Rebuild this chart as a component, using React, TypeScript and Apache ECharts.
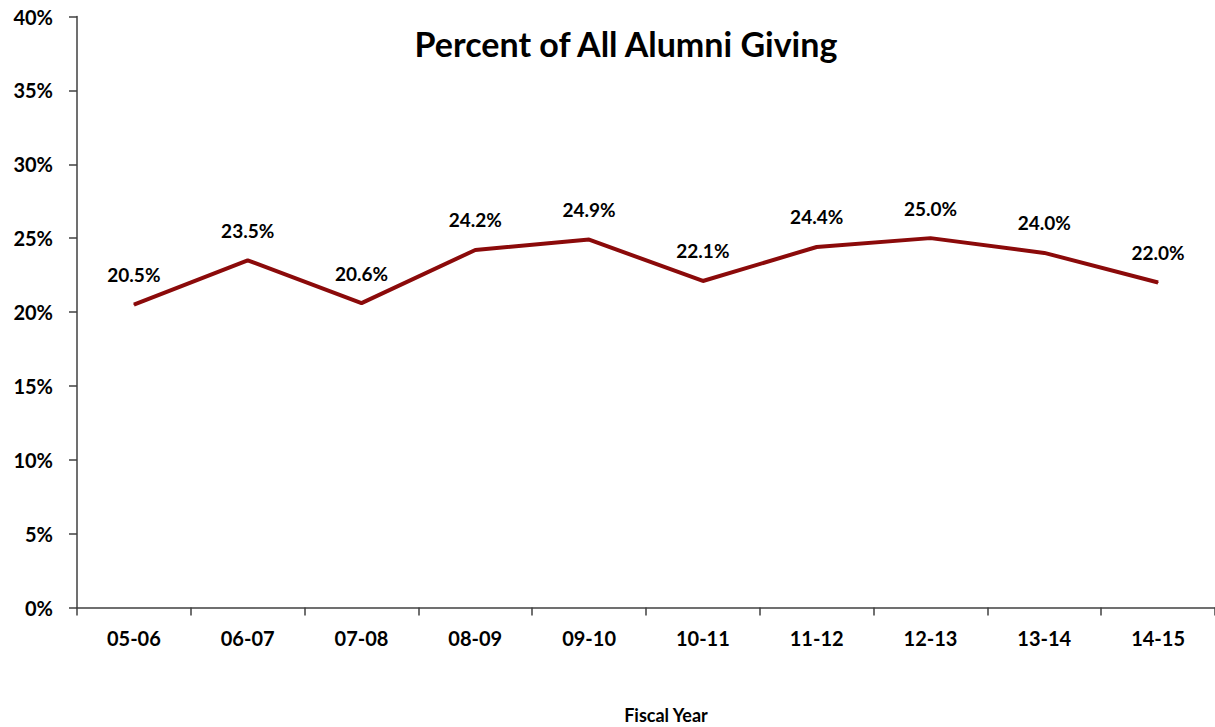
import React, { useEffect, useRef } from "react";
import * as echarts from "echarts";

const categories = ["05-06", "06-07", "07-08", "08-09", "09-10", "10-11", "11-12", "12-13", "13-14", "14-15"];
const givingPercent = [20.5, 23.5, 20.6, 24.2, 24.9, 22.1, 24.4, 25.0, 24.0, 22.0];
const yMin = 0;
const yMax = 40;
const yInterval = 5;

export default function App() {
  const ref = useRef<HTMLDivElement>(null);
  useEffect(() => {
    document.body.style.margin = "0";
    const chart = echarts.init(ref.current!, null, { renderer: "svg" });
    const font = "Lato";
    chart.setOption({
      animation: false,
      textStyle: { fontFamily: font, color: "#000" },
      title: {
        text: "Percent of All Alumni Giving",
        left: 621,
        top: 21,
        textAlign: "center",
        textStyle: { fontFamily: font, fontWeight: "bold", fontSize: 34, color: "#000" },
      },
      graphic: [
        {
          type: "text",
          x: 666,
          y: 715,
          style: {
            text: "Fiscal Year",
            fontFamily: font,
            fontWeight: "bold",
            fontSize: 18,
            fill: "#000",
            align: "center",
            verticalAlign: "middle",
          },
        },
      ],
      grid: { left: 77, top: 16.5, width: 1141, bottom: 119.5, containLabel: false },
      xAxis: {
        type: "category",
        data: categories,
        boundaryGap: true,
        axisLine: { lineStyle: { color: "#404040", width: 1.5 } },
        axisTick: { show: true, length: 8, alignWithLabel: false, lineStyle: { color: "#404040", width: 1.5 } },
        axisLabel: { fontFamily: font, fontWeight: "bold", fontSize: 20, color: "#000", margin: 20, interval: 0 },
        splitLine: { show: false },
      },
      yAxis: {
        type: "value",
        min: yMin,
        max: yMax,
        interval: yInterval,
        axisLine: { show: true, lineStyle: { color: "#404040", width: 1.5 } },
        axisTick: { show: true, length: 8, lineStyle: { color: "#404040", width: 1.5 } },
        axisLabel: { fontFamily: font, fontWeight: "bold", fontSize: 20, color: "#000", margin: 24, formatter: "{value}%" },
        splitLine: { show: false },
      },
      series: [
        {
          type: "line",
          data: givingPercent,
          showSymbol: true,
          symbol: "circle",
          symbolSize: 1,
          lineStyle: { color: "#8B0A0A", width: 4 },
          itemStyle: { color: "#8B0A0A" },
          label: {
            show: true,
            position: "top",
            distance: 20,
            fontFamily: font,
            fontWeight: "bold",
            fontSize: 19,
            color: "#000",
            formatter: (p: any) => Number(p.value).toFixed(1) + "%",
          },
        },
      ],
    });
    return () => chart.dispose();
  }, []);
  return <div ref={ref} style={{ width: 1215, height: 727 }} />;
}
